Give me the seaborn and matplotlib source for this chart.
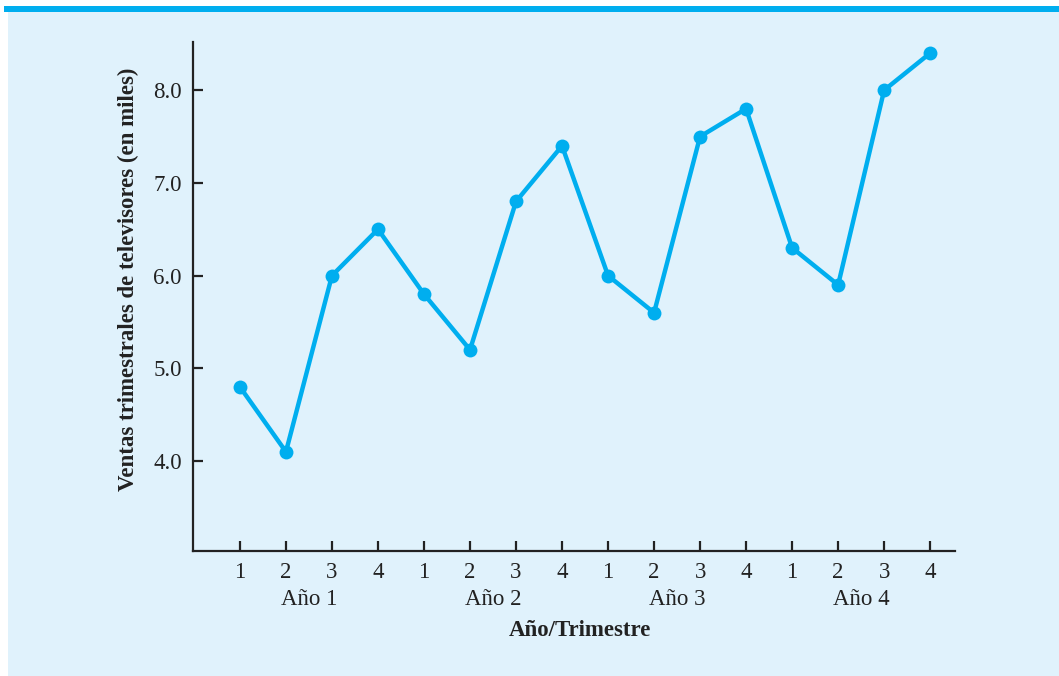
import matplotlib
matplotlib.use("Agg")
import matplotlib.pyplot as plt
import seaborn as sns
import pandas as pd
from matplotlib.patches import Rectangle

periodo = list(range(1, 17))
ventas = [4.8, 4.1, 6.0, 6.5, 5.8, 5.2, 6.8, 7.4, 6.0, 5.6, 7.5, 7.8, 6.3, 5.9, 8.0, 8.4]
trimestres = ["1", "2", "3", "4"] * 4
anios = ["Año 1", "Año 2", "Año 3", "Año 4"]
y_ticks = [4.0, 5.0, 6.0, 7.0, 8.0]

sns.set_style("ticks")
plt.rcParams["font.family"] = ["Liberation Serif", "DejaVu Serif"]

W, H = 1059, 676
fs = 16.5
fig = plt.figure(figsize=(W / 100, H / 100), dpi=100, facecolor="white")
bg = "#e0f2fc"
blue = "#00aeef"
fig.patches.append(Rectangle((8 / W, 0), 1, (H - 11) / H, transform=fig.transFigure,
                             facecolor=bg, edgecolor="none", zorder=-5))
fig.patches.append(Rectangle((4 / W, (H - 12) / H), 1, 6 / H, transform=fig.transFigure,
                             facecolor=blue, edgecolor="none", zorder=-5))

ax = fig.add_axes([193 / W, 1 - 551 / H, (955 - 193) / W, (551 - 42) / H])
ax.set_zorder(2)
ax.set_facecolor("none")

df = pd.DataFrame({"t": periodo, "v": ventas})
sns.lineplot(data=df, x="t", y="v", ax=ax, color=blue, linewidth=3.2, marker="o",
             markersize=10, markeredgewidth=0, markerfacecolor=blue)

ax.set_xlim(-0.02, 16.54)
ax.set_ylim(3.03, 8.52)
ax.set_xticks(periodo)
ax.set_xticklabels(trimestres)
ax.set_yticks(y_ticks)
ax.set_yticklabels([f"{v:.1f}" for v in y_ticks])
ax.tick_params(axis="both", direction="in", length=7, width=1.6, color="#222222",
               labelsize=fs, labelcolor="#222222", pad=8)
for s in ["top", "right"]:
    ax.spines[s].set_visible(False)
for s in ["left", "bottom"]:
    ax.spines[s].set_linewidth(1.6)
    ax.spines[s].set_color("#222222")

ax.set_xlabel("")
ax.set_ylabel("")
for i, a in enumerate(anios):
    ax.text(2.5 + 4 * i, -0.095, a, transform=ax.get_xaxis_transform(), ha="center",
            va="center", fontsize=fs, color="#222222")

fig.text(580 / W, 1 - 630 / H, "Año/Trimestre", ha="center", va="center",
         fontsize=fs, fontweight="bold", color="#222222")
fig.text(128 / W, 1 - 279 / H, "Ventas trimestrales de televisores (en miles)",
         ha="center", va="center", rotation=90, fontsize=fs, fontweight="bold",
         color="#222222")

fig.savefig("out.png", dpi=100, facecolor="white")
